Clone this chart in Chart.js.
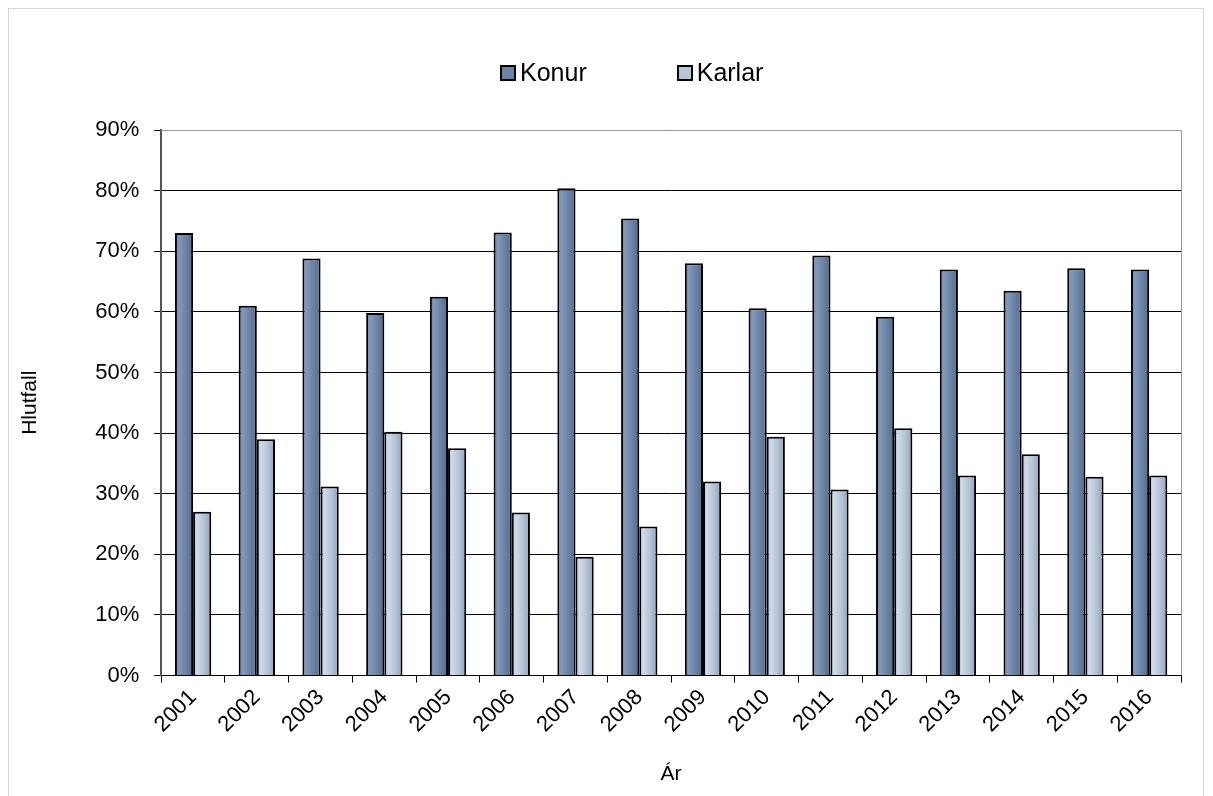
<!DOCTYPE html>
<html>
<head>
<meta charset="utf-8">
<script src="https://cdn.jsdelivr.net/npm/chart.js@4.4.1/dist/chart.umd.min.js"></script>
<style>
  html, body { margin: 0; padding: 0; background: #fff; }
  #frame { position: absolute; left: 8px; top: 8px; width: 1196px; height: 800px; border: 1px solid #d4d4d4; box-sizing: border-box; }
  #wrap { position: absolute; left: 0; top: 0; width: 1213px; height: 796px; }
  #legend { position: absolute; top: 58px; left: 500px; font-family: "Liberation Sans", Arial, sans-serif; font-size: 25px; color: #000; display: flex; }
  #legend .item { display: flex; align-items: center; margin-right: 90px; }
  #legend .box { width: 12px; height: 12px; border: 2px solid #000; margin-right: 4px; }
</style>
</head>
<body>
<div id="frame"></div>
<div id="wrap"><canvas id="chart" width="1213" height="796"></canvas></div>
<div id="legend"></div>
<script>
const years = ["2001","2002","2003","2004","2005","2006","2007","2008","2009","2010","2011","2012","2013","2014","2015","2016"];
const konur = [73.0, 61.0, 68.8, 59.8, 62.5, 73.1, 80.4, 75.4, 68.0, 60.6, 69.3, 59.2, 67.0, 63.5, 67.2, 67.0];
const karlar = [27.0, 39.0, 31.2, 40.2, 37.5, 26.9, 19.6, 24.6, 32.0, 39.4, 30.7, 40.8, 33.0, 36.5, 32.8, 33.0];
const seriesNames = ["Konur", "Karlar"];
const seriesColors = ["#6c83a4", "#b6c5d8"];
const yTicks = [0, 10, 20, 30, 40, 50, 60, 70, 80, 90];

const font = "'Liberation Sans', Arial, sans-serif";
const catPct = 0.57;

// bevel-ish gradient stops per series
const gradStops = [
    ["#5c7395", "#8199bb", "#6b83a5", "#55698a"],
    ["#9fafc4", "#d0dcec", "#b4c3d7", "#93a3b8"]
];

// legend built from the series names
const legend = document.getElementById("legend");
seriesNames.forEach((name, i) => {
    const item = document.createElement("div");
    item.className = "item";
    item.innerHTML = `<span class="box" style="background:${seriesColors[i]}"></span><span>${name}</span>`;
    legend.appendChild(item);
});

function barFill(c) {
    const xs = c.chart.scales.x;
    if (!xs || c.dataIndex === undefined || !isFinite(xs.width)) return seriesColors[c.datasetIndex];
    const center = xs.getPixelForValue(c.dataIndex);
    const half = xs.width / years.length * catPct / 2;
    const left = c.datasetIndex === 0 ? center - half : center;
    const right = left + half;
    if (!isFinite(left)) return seriesColors[c.datasetIndex];
    const g = c.chart.ctx.createLinearGradient(left, 0, right, 0);
    const s = gradStops[c.datasetIndex];
    g.addColorStop(0, s[0]);
    g.addColorStop(0.2, s[1]);
    g.addColorStop(0.6, s[2]);
    g.addColorStop(1, s[3]);
    return g;
}

const ctx = document.getElementById("chart").getContext("2d");
new Chart(ctx, {
    type: "bar",
    data: {
        labels: years,
        datasets: [
            { label: seriesNames[0], data: konur, backgroundColor: barFill, borderColor: "#000", borderWidth: 2 },
            { label: seriesNames[1], data: karlar, backgroundColor: barFill, borderColor: "#000", borderWidth: 2 }
        ]
    },
    options: {
        responsive: false,
        animation: false,
        layout: { padding: { top: 130, right: 32, bottom: 9, left: 18 } },
        datasets: { bar: { categoryPercentage: catPct, barPercentage: 1.0 } },
        plugins: {
            legend: { display: false },
            tooltip: { enabled: false }
        },
        scales: {
            x: {
                grid: { drawOnChartArea: false, drawTicks: true, tickLength: 7, color: "#000", offset: true },
                border: { color: "#000", width: 1 },
                ticks: { color: "#000", font: { family: font, size: 22 }, minRotation: 45, maxRotation: 45, padding: 2 },
                title: { display: true, text: "Ár", color: "#000", font: { family: font, size: 21 }, padding: { top: 22, bottom: 0 } }
            },
            y: {
                min: 0,
                max: 90,
                afterBuildTicks: axis => { axis.ticks = yTicks.map(v => ({ value: v })); },
                grid: { color: "#000", lineWidth: 1, tickLength: 7 },
                border: { color: "#555", width: 2 },
                ticks: { color: "#000", font: { family: font, size: 22 }, padding: 15, callback: v => v + "%" },
                title: { display: true, text: "Hlutfall", color: "#000", font: { family: font, size: 21 }, padding: { top: 0, bottom: 37 } }
            }
        }
    },
    plugins: [{
        id: "plotBorder",
        afterDraw(chart) {
            const a = chart.chartArea;
            const c = chart.ctx;
            c.save();
            c.strokeStyle = "#999";
            c.lineWidth = 1;
            c.beginPath();
            c.moveTo(a.left, a.top + 0.5);
            c.lineTo(a.right + 0.5, a.top + 0.5);
            c.lineTo(a.right + 0.5, a.bottom);
            c.stroke();
            c.restore();
        }
    }]
});
</script>
</body>
</html>
